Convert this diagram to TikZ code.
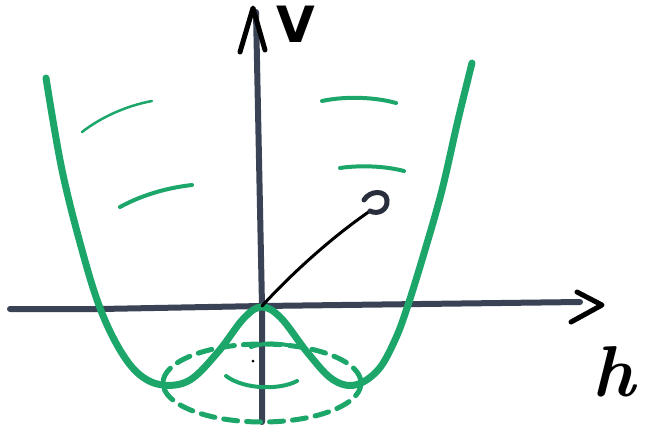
\documentclass[tikz,border=0pt]{standalone}
\usepackage{fontspec}
\setsansfont{DejaVu Sans}
\begin{document}
\begin{tikzpicture}[x=1pt,y=-1pt,
  axis/.style={line width=6pt,color=axiscol,line cap=round,line join=round},
  pen/.style={line width=5pt,color=black,line cap=round,line join=round},
  curve/.style={line width=7pt,color=hatgreen,line cap=round,line join=round},
  stroke/.style={line width=4pt,color=hatgreen,line cap=round},
  thinstroke/.style={line width=2.5pt,color=hatgreen,line cap=round},
  ring/.style={line width=5pt,color=hatgreen,dash pattern=on 14pt off 9pt,line cap=round},
  lbl/.style={inner sep=0pt}]
\definecolor{hatgreen}{RGB}{28,166,106}
\definecolor{axiscol}{RGB}{58,66,86}
\useasboundingbox (0,0) rectangle (647,432);
% axes
\coordinate (O) at (262,306);
\coordinate (xend) at (580,302);
\coordinate (xstart) at (10,309);
\coordinate (ybot) at (262,422);
\coordinate (ytop) at (256,12);
\draw[axis] (xstart) -- (100,309) -- (O) -- (xend);
\draw[axis] (ybot) -- (O) -- (ytop);
\draw[pen] (240,52) -- (253,8) -- (265,50);
\draw[pen] (577,292) -- (602,305) -- (571,322);
\node[lbl,font=\fontsize{50}{50}\selectfont\sffamily\bfseries] (V) at (296,24) {V};
\node[lbl,font=\fontsize{72}{72}\selectfont\bfseries\itshape] (h) at (614,372) {h};
% mexican hat curve
\draw[curve] plot[smooth,tension=0.6] coordinates {(46,78) (62,170) (82,250) (100,308) (120,350) (140,375) (163,385) (190,380) (218,352) (244,318) (262,307) (281,318) (307,352) (332,379) (355,385) (378,370) (395,340) (408,305) (425,250) (442,190) (458,120) (472,63)};
% dashed ring
\draw[ring] (262,383) ellipse [x radius=99, y radius=39];
% inner arcs
\draw[stroke] (226,376) .. controls (245,390) and (280,390) .. (297,381);
\draw[stroke] (251,347) .. controls (262,343) and (276,343) .. (287,345);
\fill[black] (253,361) circle (1.5);
% level strokes
\draw[thinstroke] (82,132) .. controls (100,118) and (125,106) .. (152,101);
\draw[stroke] (120,207) .. controls (140,196) and (165,188) .. (192,185);
\draw[stroke] (322,101) .. controls (345,96) and (375,97) .. (396,103);
\draw[stroke] (340,168) .. controls (360,165) and (385,166) .. (404,171);
% radial line with curl
\coordinate (curl) at (370,211);
\draw[line width=3pt,black,line cap=round] (O) .. controls (295,270) and (335,235) .. (curl);
\draw[line width=5pt,axiscol!70!black,line cap=round] (curl) .. controls (378,215) and (388,210) .. (387,200) .. controls (386,190) and (370,190) .. (364,200);
\end{tikzpicture}
\end{document}
